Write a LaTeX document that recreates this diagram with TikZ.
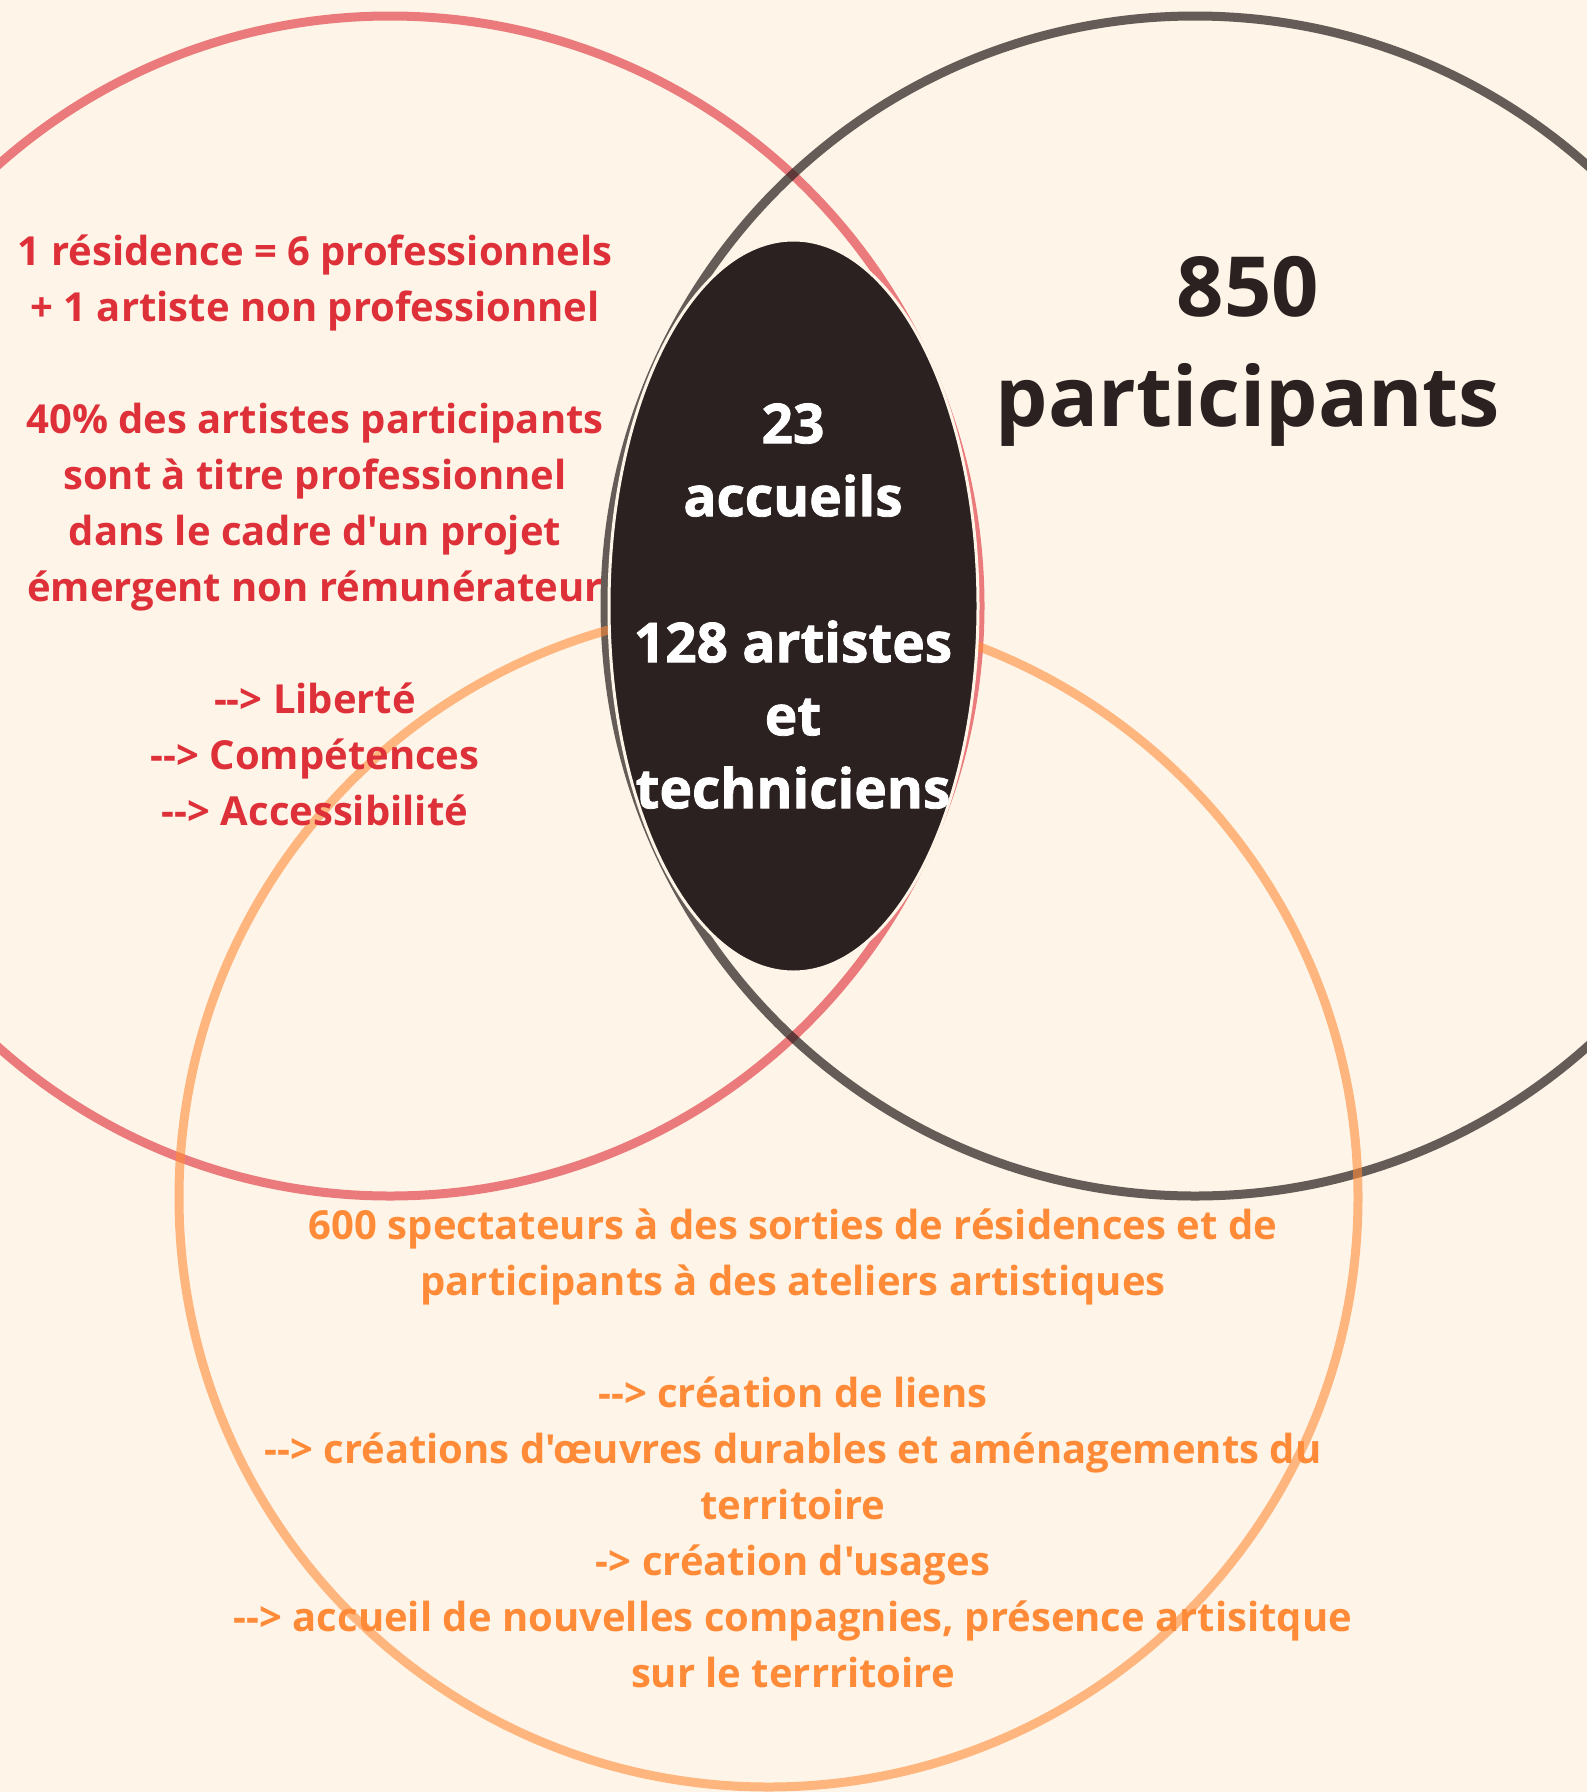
\documentclass[tikz,border=0pt]{standalone}
\usepackage{fontspec}
\setmainfont{Open Sans}[Ligatures=TeXOff]
\newfontfamily\heavyfont{Open Sans}[Ligatures=TeXOff,BoldFeatures={FakeBold=1.5}]
\definecolor{creme}{HTML}{FEF5E8}
\definecolor{redtext}{HTML}{DE3039}
\definecolor{orangetext}{HTML}{FF8B38}
\definecolor{darkbrown}{HTML}{2A2120}

\begin{document}
\begin{tikzpicture}[x=1bp,y=-1bp]
\tikzstyle{ring}=[line width=9bp]
\tikzstyle{bloc}=[align=center,inner sep=0pt,anchor=north]
\tikzstyle{redtxt}=[bloc,text=redtext,font=\fontsize{40bp}{56bp}\selectfont\bfseries]
\tikzstyle{orangetxt}=[bloc,text=orangetext,font=\fontsize{40bp}{56bp}\selectfont\bfseries]
\tikzstyle{whitetxt}=[bloc,text=white,font=\heavyfont\fontsize{55bp}{73bp}\selectfont\bfseries]
\tikzstyle{bigtxt}=[bloc,text=darkbrown,font=\fontsize{83bp}{110bp}\selectfont\bfseries]

\fill[creme] (0,0) rectangle (1587,1792);
\useasboundingbox (0,0) rectangle (1587,1792);
\clip (0,0) rectangle (1587,1792);

% the three circles
\draw[ring,draw=redtext,draw opacity=0.62] (390,606) circle[radius=590];
\draw[ring,draw=darkbrown,draw opacity=0.72] (1195,606) circle[radius=590];
\draw[ring,draw=orangetext,draw opacity=0.6] (768.5,1197.5) circle[radius=589.5];

\node[redtxt] (pros) at (315,226) {\strut 1 résidence = 6 professionnels\\
+ 1 artiste non professionnel\\[56bp]
40\% des artistes participants\\
sont à titre professionnel\\
dans le cadre d'un projet\\
émergent non rémunérateur\\[56bp]
--> Liberté\\
--> Compétences\\
--> Accessibilité\strut};

% centre
\fill[darkbrown,draw=creme,line width=3bp] (793.5,606) ellipse[x radius=184.5,y radius=366];
\node[whitetxt] (accueils) at (793,391.9) {\strut 23\\
accueils\\[73bp]
128 artistes\\
et\\
techniciens\strut};

\node[bigtxt] (participants) at (1248,239) {\strut 850\\
participants\strut};

\node[orangetxt] (public) at (793,1199.8) {\strut 600 spectateurs à des sorties de résidences et de\\
participants à des ateliers artistiques\\[56bp]
--> création de liens\\
--> créations d'œuvres durables et aménagements du\\
territoire\\
-> création d'usages\\
--> accueil de nouvelles compagnies, présence artisitque\\
sur le terrritoire\strut};
\end{tikzpicture}
\end{document}
